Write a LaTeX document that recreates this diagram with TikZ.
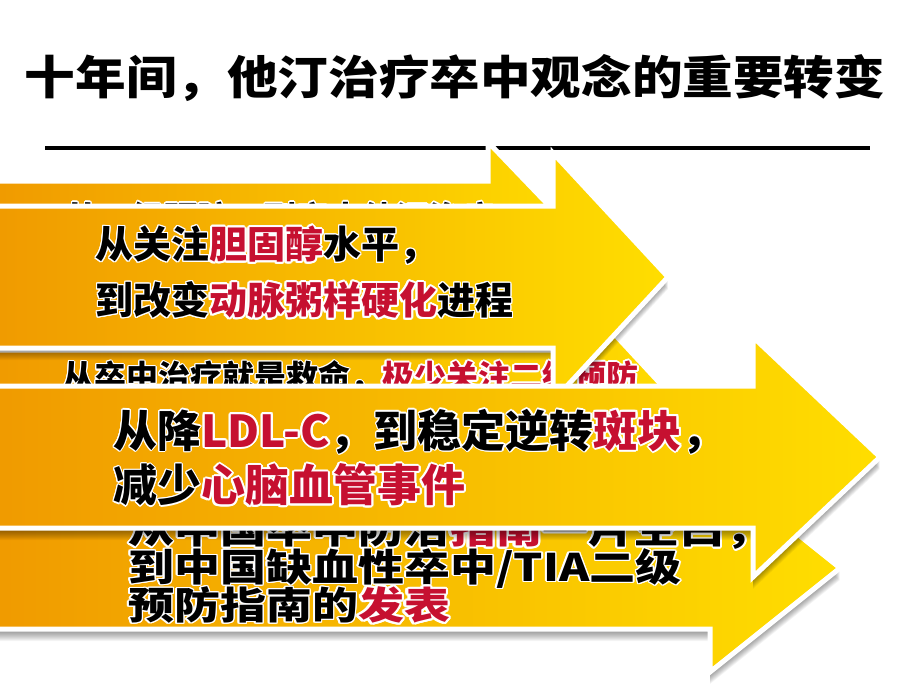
\documentclass[tikz,border=0pt]{standalone}
\usepackage{fontspec}
\usepackage{graphicx}
\usepackage[copies]{contour}
\newfontfamily\cjk{Noto Sans CJK SC}
\usetikzlibrary{calc}
\definecolor{arOrange}{RGB}{240,154,0}
\definecolor{arYellow}{RGB}{255,222,0}
\definecolor{hlred}{RGB}{198,16,48}
\contourlength{1.2pt}
\tikzstyle{arrowbody} = [draw=white, line width=5pt, line join=miter,
    left color=arOrange, right color=arYellow]
\tikzstyle{shade} = [fill=black, opacity=0.045]
\tikzstyle{lbl} = [anchor=west, inner sep=0pt]
\tikzstyle{rule} = [draw, line width=4pt]
% text helpers
\newcommand{\blk}[1]{\contour{white}{#1}}
\newcommand{\hot}[1]{{\color{hlred}\contourlength{2pt}\contour{white}{#1}}}
\newcommand{\sz}[1]{\cjk\bfseries\fontsize{#1}{#1}\selectfont}
% top, bottom, head x, head half height, tip x
\newcommand{\arrowpath}[5]{(-8,#1) -- (#3,#1) -- (#3,{(#1+#2)/2-#4})
    -- (#5,{(#1+#2)/2}) -- (#3,{(#1+#2)/2+#4}) -- (#3,#2) -- (-8,#2) -- cycle}
\newcommand{\bigarrow}[5]{%
    \foreach \d in {3,...,12} \fill[shade, shift={(0,\d)}] \arrowpath{#1}{#2}{#3}{#4}{#5};
    \path[arrowbody] \arrowpath{#1}{#2}{#3}{#4}{#5};}

\begin{document}
\begin{tikzpicture}[x=1pt,y=-1pt]
    \useasboundingbox[fill=white] (0,0) rectangle (920,690);
    % Title
    \node[font=\sz{46}] (title) at (455,78) {\scalebox{1.1}[1]{十年间，他汀治疗卒中观念的重要转变}};
    \coordinate (ruleL) at (45,148);
    \coordinate (ruleR) at (870,148);
    \path[rule] (ruleL) -- (ruleR);
    % Arrow 1 (mostly hidden)
    \bigarrow{181}{343}{488}{120}{603}
    \node[lbl, font=\sz{33}] (a1) at (65,219) {\blk{从一级预防，到卒中他汀治疗}};
    % Arrow 3
    \bigarrow{350}{492}{580}{124}{695}
    \node[lbl, font=\sz{32}] (c1) at (62,378) {\blk{从卒中治疗就是救命，}\hot{极少关注二级预防}};
    % Arrow 5
    \bigarrow{507}{629}{710}{104}{840}
    \node[lbl, font=\sz{38}] (e1) at (128,531) {\scalebox{1.21}[1]{\blk{从中国卒中防治}\hot{指南}\blk{一片空白，}}};
    \node[lbl, font=\sz{38}] (e2) at (128,569) {\scalebox{1.21}[1]{\blk{到中国缺血性卒中/TIA二级}}};
    \node[lbl, font=\sz{38}] (e3) at (128,606) {\scalebox{1.21}[1]{\blk{预防指南的}\hot{发表}}};
    % Arrow 2
    \bigarrow{206}{348}{553}{124}{668}
    \node[lbl, font=\sz{38}] (b1) at (95,246) {\blk{从关注}\hot{胆固醇}\blk{水平，}};
    \node[lbl, font=\sz{38}] (b2) at (95,301) {\blk{到改变}\hot{动脉粥样硬化}\blk{进程}};
    % Arrow 4
    \bigarrow{386}{528}{753}{120}{880}
    \node[lbl, font=\sz{44}] (d1) at (113,432) {\blk{从降}\hot{LDL-C}\blk{，到稳定逆转}\hot{斑块}\blk{，}};
    \node[lbl, font=\sz{44}] (d2) at (113,486) {\blk{减少}\hot{心脑血管事件}};
\end{tikzpicture}
\end{document}
